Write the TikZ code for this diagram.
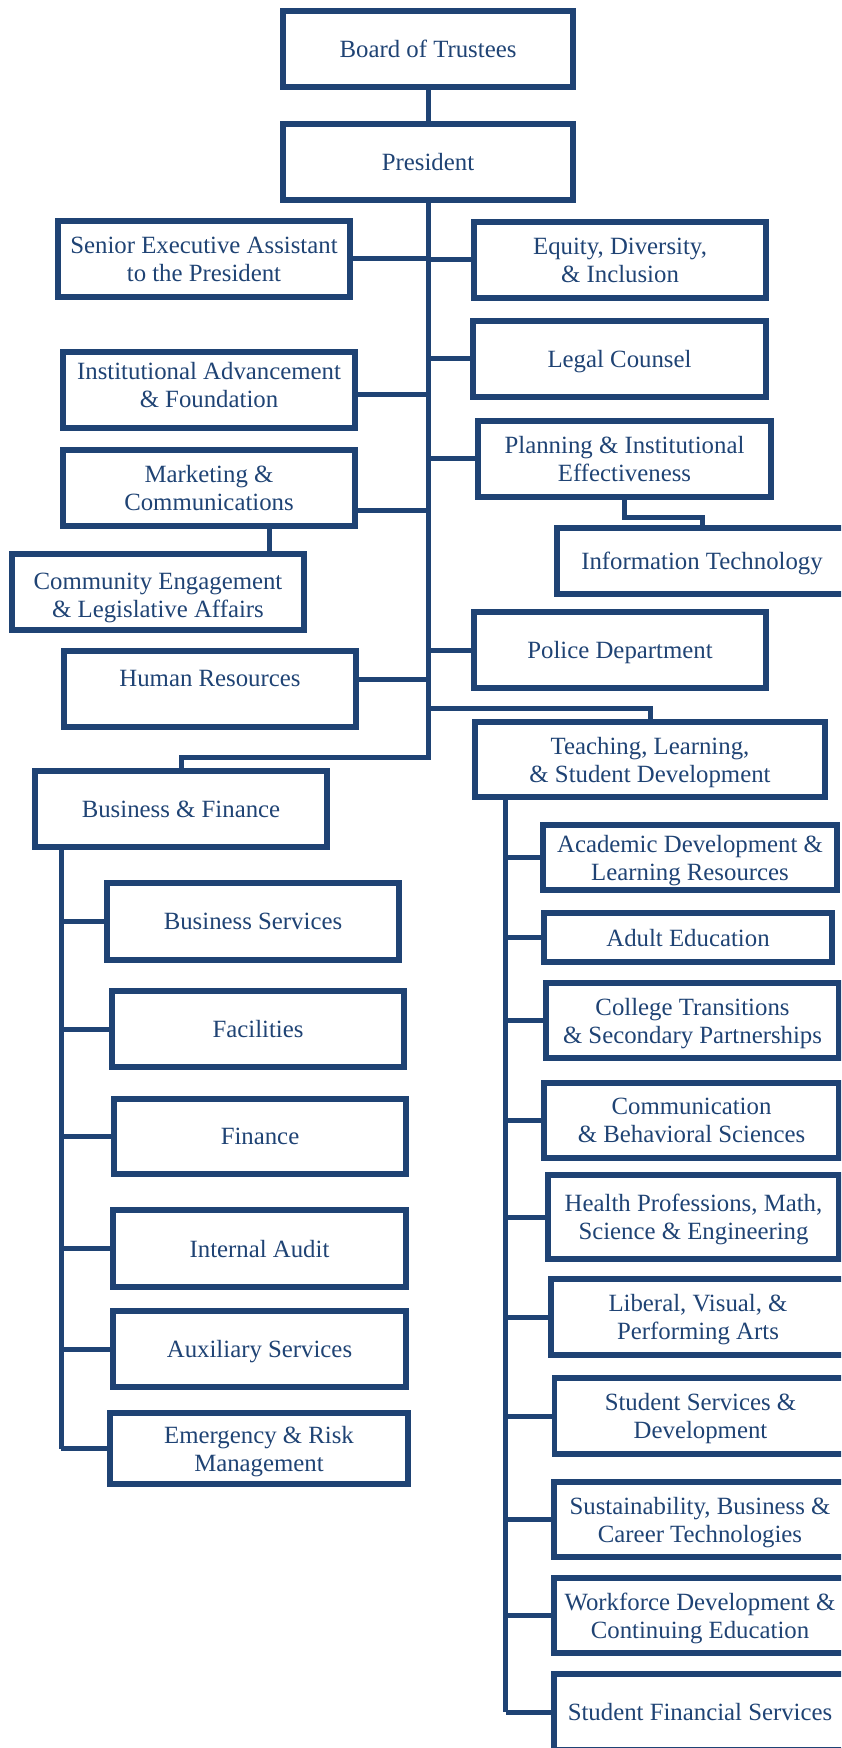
\documentclass[tikz,border=0pt]{standalone}
\usepackage{fontspec}
\setmainfont{Liberation Serif}
\usepackage{tikz}
\definecolor{navy}{RGB}{31,67,116}

\begin{document}
\begin{tikzpicture}[x=0.5pt, y=-0.5pt,
  unit/.style={draw=navy, line width=2.6pt, text=navy, align=center, inner sep=0pt,
    minimum width=146pt, minimum height=38pt, text depth=0pt,
    font=\fontsize{12.4}{14}\selectfont},
  link/.style={draw=navy, line width=2.5pt}]

% page frame
\clip (0,0) rectangle (841,1748);

% Board and President
\node[unit, minimum width=145pt] (board) at (428,49) {Board of Trustees};
\node[unit, minimum width=145pt] (pres) at (428,162) {President};
\draw[link] (board.south) -- (pres.north);

% offices under the President, left column
\node[unit] (sea) at (204,259) {Senior Executive Assistant\\to the President};
\node[unit, text depth=5pt] (iadv) at (209,390) {Institutional Advancement\\\& Foundation};
\node[unit] (mkt) at (209,488) {Marketing \&\\Communications};
\node[unit, text height=25.8pt] (comm) at (158,592) {Community Engagement\\\& Legislative Affairs};
\node[unit] (hr) at (210,689) {Human Resources\\[-3pt]\phantom{H}};

% offices under the President, right column
\node[unit] (eqty) at (620,260) {Equity, Diversity,\\\& Inclusion};
\node[unit, minimum width=146.5pt] (legal) at (619.5,359) {Legal Counsel};
\node[unit, minimum width=146.5pt] (plan) at (624.5,459) {Planning \& Institutional\\Effectiveness};
\node[unit, minimum width=145pt, minimum height=33pt] (it) at (702,561) {Information Technology};
\node[unit] (police) at (620,650) {Police Department};

% the two divisions
\node[unit, minimum width=175pt, minimum height=37.5pt] (teach) at (650,759.5) {Teaching, Learning,\\\& Student Development};
\node[unit] (bf) at (181,809) {Business \& Finance};

% main trunk
\coordinate (tsplit) at (428,708);
\coordinate (bfsplit) at (428,757);
\draw[link] (pres.south) -- (bfsplit) -| (bf.north);
\draw[link] (tsplit) -| (teach.north);

\draw[link] (sea.east) -- (sea.east -| pres.south);
\draw[link] ([yshift=-2.5pt]iadv.east) -- ([yshift=-2.5pt]iadv.east -| pres.south);
\draw[link] ([yshift=-11.5pt]mkt.east) -- ([yshift=-11.5pt]mkt.east -| pres.south);
\draw[link] ([yshift=5pt]hr.east) -- ([yshift=5pt]hr.east -| pres.south);
\draw[link] ([xshift=30pt]mkt.south) -- ([xshift=30pt]mkt.south |- comm.north);

\draw[link] (eqty.west) -- (eqty.west -| pres.south);
\draw[link] (legal.west) -- (legal.west -| pres.south);
\draw[link] (plan.west) -- (plan.west -| pres.south);
\draw[link] (police.west) -- (police.west -| pres.south);
\draw[link] (plan.south) -- ++(0,18) -| (it.north);

% Business & Finance units
\node[unit, minimum height=38.5pt] (bsvc) at (253,921.5) {Business Services};
\node[unit] (fac) at (258,1029) {Facilities};
\node[unit, minimum height=37.5pt] (fin) at (260,1136.5) {Finance};
\node[unit, minimum width=146.5pt, minimum height=38.5pt] (audit) at (259.5,1248.5) {Internal Audit};
\node[unit, minimum width=146.5pt] (aux) at (259.5,1349) {Auxiliary Services};
\node[unit, minimum width=149pt, minimum height=35.5pt] (emrg) at (259,1448.5) {Emergency \& Risk\\Management};

\coordinate (bftrunk) at ([xshift=14.5pt]bf.south west);
\draw[link] (bftrunk) -- (bftrunk |- emrg.west);
\draw[link] (bsvc.west) -- (bsvc.west -| bftrunk);
\draw[link] (fac.west) -- (fac.west -| bftrunk);
\draw[link] (fin.west) -- (fin.west -| bftrunk);
\draw[link] (audit.west) -- (audit.west -| bftrunk);
\draw[link] (aux.west) -- (aux.west -| bftrunk);
\draw[link] (emrg.west) -- (emrg.west -| bftrunk);

% Teaching, Learning & Student Development units
\node[unit, minimum width=147pt, minimum height=32.5pt] (acad) at (690,857.5) {Academic Development \&\\Learning Resources};
\node[unit, minimum width=144pt, minimum height=24.5pt] (adult) at (688,937.5) {Adult Education};
\node[unit, minimum width=146.5pt, minimum height=37.5pt] (coll) at (692.5,1020.5) {College Transitions\\\& Secondary Partnerships};
\node[unit, minimum width=147.5pt, minimum height=37.5pt] (cbs) at (691.5,1120.5) {Communication\\\& Behavioral Sciences};
\node[unit, minimum width=145.5pt, minimum height=42pt] (hpms) at (693.5,1217) {Health Professions, Math,\\Science \& Engineering};
\node[unit, minimum width=147pt] (lvpa) at (698,1317) {Liberal, Visual, \&\\Performing Arts};
\node[unit] (ssd) at (700.5,1416) {Student Services \&\\Development};
\node[unit, minimum height=37.5pt] (sbct) at (700,1519.5) {Sustainability, Business \&\\Career Technologies};
\node[unit, minimum height=37.5pt] (wdce) at (700,1615.5) {Workforce Development \&\\Continuing Education};
\node[unit] (sfs) at (700,1712) {Student Financial Services};

\coordinate (ttrunk) at ([xshift=16.75pt]teach.south west);
\draw[link] (ttrunk) -- (ttrunk |- sfs.west);
\draw[link] (acad.west) -- (acad.west -| ttrunk);
\draw[link] (adult.west) -- (adult.west -| ttrunk);
\draw[link] (coll.west) -- (coll.west -| ttrunk);
\draw[link] (cbs.west) -- (cbs.west -| ttrunk);
\draw[link] (hpms.west) -- (hpms.west -| ttrunk);
\draw[link] (lvpa.west) -- (lvpa.west -| ttrunk);
\draw[link] (ssd.west) -- (ssd.west -| ttrunk);
\draw[link] (sbct.west) -- (sbct.west -| ttrunk);
\draw[link] (wdce.west) -- (wdce.west -| ttrunk);
\draw[link] (sfs.west) -- (sfs.west -| ttrunk);

\end{tikzpicture}
\end{document}
